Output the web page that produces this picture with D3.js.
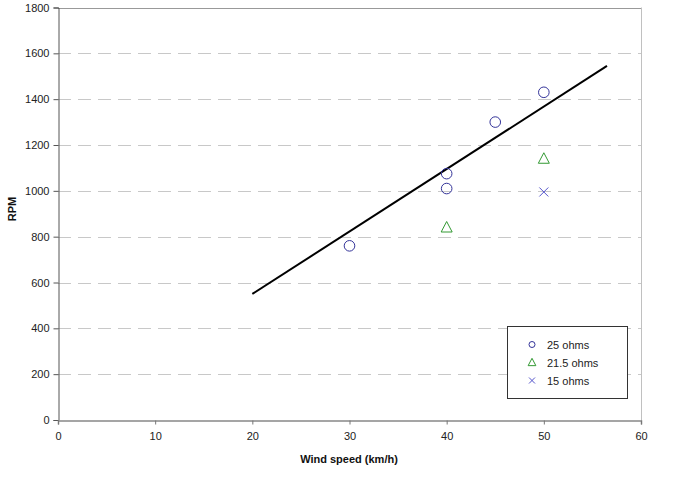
<!DOCTYPE html>
<html><head><meta charset="utf-8">
<script src="https://cdn.jsdelivr.net/npm/d3@7"></script>
<style>body{margin:0;background:#fff}svg{display:block}text{font-family:"Liberation Sans",Arial,sans-serif}</style>
</head><body>
<script>
const xTicks = [0,10,20,30,40,50,60];
const yTicks = [0,200,400,600,800,1000,1200,1400,1600,1800];
const seriesNames = ["25 ohms","21.5 ohms","15 ohms"];
const ohms25X = [30,40,40,45,50];
const ohms25Y = [760,1075,1010,1300,1430];
const ohms21X = [40,50];
const ohms21Y = [840,1140];
const ohms15X = [50];
const ohms15Y = [995];
const trendX = [20,56.5];
const trendY = [550,1545];

const W=685,H=494;
const svg=d3.select("body").append("svg").attr("width",W).attr("height",H);
const x=d3.scaleLinear().domain([0,60]).range([58,641]);
const y=d3.scaleLinear().domain([0,1800]).range([420,7.5]);

// gridlines
svg.append("g").selectAll("line").data(yTicks.filter(t=>t>0&&t<1800)).join("line")
 .attr("x1",x(0)).attr("x2",x(60)).attr("y1",d=>Math.round(y(d))+0.5).attr("y2",d=>Math.round(y(d))+0.5)
 .attr("stroke","#c8c8c8").attr("stroke-dasharray","13,7");
// plot border top & right
svg.append("line").attr("x1",x(0)).attr("x2",x(60)+0.5).attr("y1",Math.round(y(1800))+0.5).attr("y2",Math.round(y(1800))+0.5).attr("stroke","#999");
svg.append("line").attr("x1",Math.round(x(60))+0.5).attr("x2",Math.round(x(60))+0.5).attr("y1",y(1800)).attr("y2",y(0)).attr("stroke","#c0c0c0");

const yAxis=svg.append("g").attr("transform",`translate(${Math.round(x(0))+0.5},0)`)
 .call(d3.axisLeft(y).tickValues(yTicks).tickSize(5).tickPadding(4).tickFormat(d3.format("d")));
const xAxis=svg.append("g").attr("transform",`translate(0,${Math.round(y(0))+0.5})`)
 .call(d3.axisBottom(x).tickValues(xTicks).tickSize(4).tickPadding(8).tickFormat(d3.format("d")));
[yAxis,xAxis].forEach(g=>{
 g.selectAll("text").attr("font-size",11).attr("fill","#222").attr("font-family","Liberation Sans, Arial, sans-serif");
});
yAxis.select(".domain").attr("stroke","#555");
yAxis.selectAll(".tick line").attr("stroke","#555");
xAxis.select(".domain").attr("stroke","#888").attr("stroke-width",1.5);
xAxis.selectAll(".tick line").attr("stroke","#777");

// trend line
svg.append("path").datum(trendX.map((d,i)=>[d,trendY[i]]))
 .attr("d",d3.line().x(d=>x(d[0])).y(d=>y(d[1]))).attr("stroke","#000").attr("stroke-width",2).attr("fill","none");

// markers
const circ="#333399", tri="#339933", cross="#5555cc";
svg.append("g").selectAll("circle").data(ohms25X.map((d,i)=>[d,ohms25Y[i]])).join("circle")
 .attr("cx",d=>x(d[0])).attr("cy",d=>y(d[1])).attr("r",5.3).attr("fill","none").attr("stroke",circ).attr("stroke-width",1);
const triPath=s=>`M0,${-s*0.6}L${s*0.55},${s*0.45}L${-s*0.55},${s*0.45}Z`;
svg.append("g").selectAll("path").data(ohms21X.map((d,i)=>[d,ohms21Y[i]])).join("path")
 .attr("transform",d=>`translate(${x(d[0])},${y(d[1])})`).attr("d",triPath(10)).attr("fill","none").attr("stroke",tri);
const xPath=s=>`M${-s},${-s}L${s},${s}M${-s},${s}L${s},${-s}`;
svg.append("g").selectAll("path").data(ohms15X.map((d,i)=>[d,ohms15Y[i]])).join("path")
 .attr("transform",d=>`translate(${x(d[0])},${y(d[1])})`).attr("d",xPath(4.5)).attr("fill","none").attr("stroke",cross);

// axis titles
svg.append("text").attr("x",349).attr("y",463).attr("text-anchor","middle").attr("font-size",11).attr("font-weight","bold").attr("fill","#111").text("Wind speed (km/h)");
svg.append("text").attr("transform","translate(16,209) rotate(-90)").attr("text-anchor","middle").attr("font-size",11).attr("font-weight","bold").attr("fill","#111").text("RPM");

// legend
const lg=svg.append("g");
lg.append("rect").attr("x",507.5).attr("y",326.5).attr("width",120).attr("height",72).attr("fill","#fff").attr("stroke","#333");
const rows=[344.5,362.5,380.5];
lg.append("circle").attr("cx",532).attr("cy",rows[0]).attr("r",3).attr("fill","none").attr("stroke",circ);
lg.append("path").attr("transform",`translate(532,${rows[1]})`).attr("d",triPath(7)).attr("fill","none").attr("stroke",tri);
lg.append("path").attr("transform",`translate(532,${rows[2]})`).attr("d",xPath(3)).attr("fill","none").attr("stroke",cross);
lg.selectAll("text.l").data(seriesNames).join("text").attr("class","l")
 .attr("x",547).attr("y",(d,i)=>rows[i]+4).attr("font-size",11).attr("fill","#222").text(d=>d);
</script>
</body></html>
